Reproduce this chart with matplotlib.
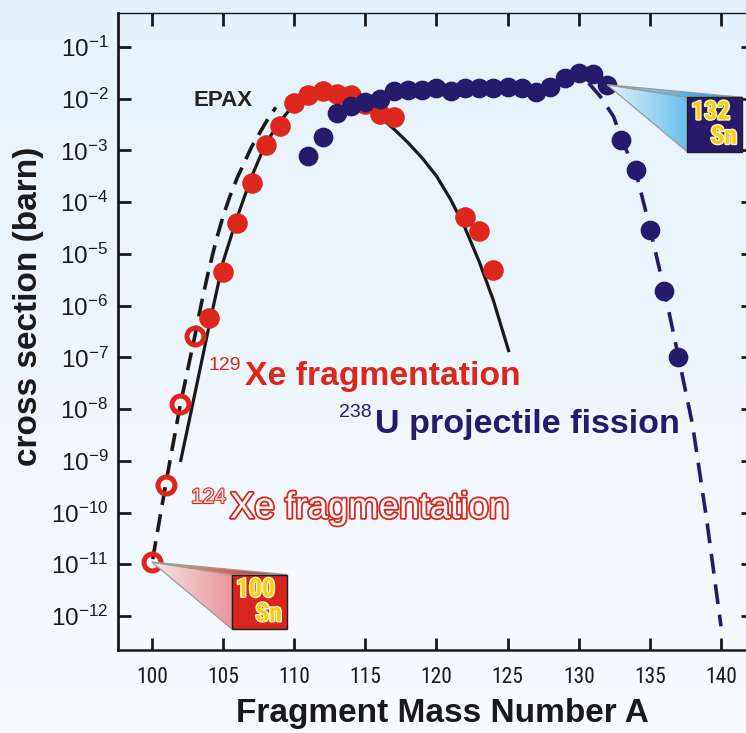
import numpy as np
import matplotlib
matplotlib.use("Agg")
import matplotlib.pyplot as plt
from matplotlib import font_manager
from matplotlib.font_manager import FontProperties
from matplotlib.patches import Polygon, Rectangle
from matplotlib.colors import LinearSegmentedColormap
from matplotlib.ticker import FixedLocator, FuncFormatter, NullLocator
import matplotlib.patheffects as pe

# 129Xe fragmentation (filled red circles), cross section in barn
xe129_A = [104, 105, 106, 107, 108, 109, 110, 111, 112, 113, 114, 115, 116, 117, 122, 123, 124]
xe129_sig = [5.75e-7, 4.5e-6, 4.0e-5, 2.4e-4, 1.3e-3, 2.95e-3, 8.3e-3, 1.17e-2, 1.38e-2,
             1.26e-2, 1.17e-2, 7.9e-3, 5.0e-3, 4.5e-3, 5.2e-5, 2.8e-5, 4.9e-6]

# 124Xe fragmentation (open red circles)
xe124_A = [100, 101, 102, 103]
xe124_sig = [1.1e-11, 3.4e-10, 1.23e-8, 2.6e-7]

# 238U projectile fission (navy circles)
u238_A = list(range(111, 138))
u238_sig = [7.8e-4, 1.86e-3, 5.4e-3, 7.2e-3, 8.7e-3, 9.8e-3, 1.38e-2, 1.48e-2, 1.48e-2,
            1.58e-2, 1.41e-2, 1.58e-2, 1.58e-2, 1.58e-2, 1.66e-2, 1.58e-2, 1.32e-2, 1.66e-2,
            2.57e-2, 3.16e-2, 3.0e-2, 1.86e-2, 1.58e-3, 4.2e-4, 2.95e-5, 1.95e-6, 1.02e-7]

# EPAX curve for 129Xe (solid black)
epax129_A = [102, 103, 104, 105, 106, 107, 108, 109, 110, 111, 112, 113, 114, 115, 116,
             117, 118, 119, 120, 121, 122, 123, 124, 125.1]
epax129_sig = [9.5e-10, 1.9e-8, 3.9e-7, 7.1e-6, 5.2e-5, 3.1e-4, 1.38e-3, 3.6e-3, 7.9e-3,
               1.17e-2, 1.45e-2, 1.51e-2, 1.32e-2, 8.9e-3, 4.5e-3, 2.6e-3, 1.41e-3, 7.1e-4,
               3.2e-4, 1.12e-4, 3.2e-5, 7.1e-6, 1.26e-6, 1.26e-7]

# EPAX curve for 124Xe (dashed black)
epax124_A = [100.05, 101, 102, 103, 103.5, 104, 104.5, 105, 105.5, 106, 107, 108, 108.7]
epax124_sig = [1.26e-11, 4.0e-10, 1.26e-8, 2.5e-7, 1.2e-6, 5.0e-6, 1.78e-5, 5.4e-5,
               1.35e-4, 3.0e-4, 1.17e-3, 3.47e-3, 6.8e-3]

# fission model for 238U (dashed navy)
fis_A = [130.7, 131.5, 132.45, 133, 134, 135, 136, 137, 138, 139, 140]
fis_sig = [2.0e-2, 1.12e-2, 4.5e-3, 1.66e-3, 4.0e-4, 3.2e-5, 2.1e-6, 1.05e-7, 5.0e-9, 7.1e-11, 6.3e-13]

x_ticks = [100, 105, 110, 115, 120, 125, 130, 135, 140]
y_exponents = list(range(-12, 0))

RED = "#dd261c"
NAVY = "#251a6c"
INK = "#1a1a1a"
SANS = "Liberation Sans"


def narrow_fonts():
    # look for an installed narrow/condensed sans face (regular and bold)
    prefs = ["Liberation Sans Narrow", "Roboto Condensed", "DejaVu Sans", "Noto Sans", "Open Sans"]
    found = {}
    for f in font_manager.fontManager.ttflist:
        narrow = ("Narrow" in f.name or "Condensed" in f.name
                  or f.stretch in ("condensed", "semi-condensed"))
        if not narrow or f.style != "normal":
            continue
        if "Extra" in f.name or "Ultra" in f.name:
            continue
        key = next((p for p in prefs if f.name.startswith(p)), None)
        if key is None:
            continue
        w = f.weight if isinstance(f.weight, int) else {"normal": 400, "regular": 400, "bold": 700}.get(f.weight, 0)
        slot = "bold" if w == 700 else ("regular" if w == 400 else None)
        if slot:
            found.setdefault(key, {})[slot] = f.fname
    for p in prefs:
        if p in found and "regular" in found[p] and "bold" in found[p]:
            return FontProperties(fname=found[p]["regular"]), FontProperties(fname=found[p]["bold"])
    return None, None


NARROW_REG, NARROW_BOLD = narrow_fonts()
HAVE_NARROW = NARROW_REG is not None

plt.rcParams["font.family"] = [SANS, "DejaVu Sans"]
plt.rcParams["mathtext.fontset"] = "custom"
plt.rcParams["mathtext.rm"] = SANS
plt.rcParams["mathtext.it"] = SANS
plt.rcParams["mathtext.bf"] = SANS + ":bold"


def grad_poly(axo, verts, c0, c1, z):
    poly = Polygon(verts, closed=True, facecolor="none", edgecolor="#9a9a9a", lw=0.9, zorder=z + 0.1)
    axo.add_patch(poly)
    xs = [v[0] for v in verts]
    ys = [v[1] for v in verts]
    cmap = LinearSegmentedColormap.from_list("g", [c0, c1])
    im = axo.imshow(np.linspace(0, 1, 64)[None, :], cmap=cmap, aspect="auto", origin="lower",
                    extent=(min(xs), max(xs), min(ys), max(ys)), zorder=z, interpolation="bilinear")
    im.set_clip_path(poly)


def box_text(axo, x, y, s, ha, va):
    fx = [pe.withStroke(linewidth=2.0, foreground="#fff6c4")]
    if HAVE_NARROW:
        fp = NARROW_BOLD.copy()
        fp.set_size(18.5)
        axo.text(x, y, s, ha=ha, va=va, fontproperties=fp, color="#f6cf10", path_effects=fx, zorder=4)
    else:
        axo.text(x, y, s, ha=ha, va=va, fontsize=15.5, fontweight="bold", color="#f6cf10",
                 path_effects=fx, zorder=4)


def callout(axo, apex, num, sym, box_col, face0, face1, strip0, strip1):
    x0, y0 = apex
    tl = (x0 + 80, y0 - 12.5)
    tr = (x0 + 135, y0 - 12.5)
    bl = (x0 + 80, y0 - 67)
    grad_poly(axo, [apex, tl, bl], face0, face1, 2)
    grad_poly(axo, [apex, tr, tl], strip0, strip1, 2)
    axo.add_patch(Rectangle(bl, 55, 54.5, facecolor=box_col, edgecolor="#202020", lw=1.0, zorder=3))
    box_text(axo, tl[0] + 4, tl[1] - 3, num, "left", "top")
    box_text(axo, tr[0] - 5, bl[1] + 8, sym, "right", "baseline")


W, H = 746, 733
fig = plt.figure(figsize=(W / 100, H / 100), dpi=100)

# background gradient
bg = fig.add_axes([0, 0, 1, 1], zorder=-5)
bg_cmap = LinearSegmentedColormap.from_list("bg", ["#f8fbff", "#e5f2fc"])
bg.imshow(np.linspace(0, 1, 256)[:, None], cmap=bg_cmap, aspect="auto", origin="lower",
          extent=(0, 1, 0, 1))
bg.axis("off")

ax = fig.add_axes([118 / W, 83 / H, 635 / W, 637 / H], zorder=1)
ax.set_facecolor("none")
ax.set_yscale("log")
ax.set_xlim(97.61, 142.25)
ax.set_ylim(2.2e-13, 0.454)

ax.plot(epax129_A, epax129_sig, color=INK, lw=2.3, zorder=2, solid_capstyle="butt")
ax.plot(epax124_A, epax124_sig, color=INK, lw=2.6, ls=(0, (5, 2.6)), zorder=2)
ax.plot(fis_A, fis_sig, color=NAVY, lw=2.6, ls=(0, (5.5, 3)), zorder=2)

ax.plot(xe129_A, xe129_sig, "o", ms=13.8, color=RED, mec=RED, zorder=3)
ax.plot(xe124_A, xe124_sig, "o", ms=12.2, mfc="none", mec=RED, mew=3.6, zorder=3)
ax.plot(u238_A, u238_sig, "o", ms=13.2, color=NAVY, mec=NAVY, zorder=4)

# axes styling
ax.xaxis.set_major_locator(FixedLocator(x_ticks))
ax.yaxis.set_major_locator(FixedLocator([10.0 ** e for e in y_exponents]))
ax.yaxis.set_minor_locator(NullLocator())
ax.yaxis.set_major_formatter(FuncFormatter(lambda v, p: r"$10^{%d}$" % round(np.log10(v))))
ax.tick_params(axis="both", which="major", direction="in", top=True, right=True,
               length=9, width=2.0, colors=INK)
ax.tick_params(axis="x", pad=12, labelsize=15.5 if HAVE_NARROW else 14.5)
ax.tick_params(axis="y", pad=7, labelsize=17.5)
if HAVE_NARROW:
    for lbl in ax.get_xticklabels():
        lbl.set_fontproperties(NARROW_REG)
        lbl.set_fontsize(15.5)
for s, w in [("left", 2.0), ("bottom", 1.8), ("top", 1.0), ("right", 2.0)]:
    ax.spines[s].set_linewidth(w)
    ax.spines[s].set_color(INK)

ax.set_xlabel("Fragment Mass Number A", fontsize=24, fontweight="bold", color=INK, va="center")
ax.xaxis.set_label_coords(0.511, -0.099)
ax.set_ylabel("cross section (barn)", fontsize=24, fontweight="bold", color=INK, va="center")
ax.yaxis.set_label_coords(-0.1417, 0.540)

# annotations
ax.text(102.95, 7.08e-3, "EPAX", fontsize=16, fontweight="bold", color="#222222",
        ha="left", va="baseline", zorder=5)

ax.text(106.54, 2.92e-8, "Xe fragmentation", fontsize=24.3, fontweight="bold", color=RED,
        ha="left", va="baseline", zorder=5)
ax.text(106.26, 5.7e-8, "129", fontsize=14, color=RED, ha="right", va="baseline", zorder=5)

ax.text(115.68, 3.5e-9, "U projectile fission", fontsize=24.6, fontweight="bold", color=NAVY,
        ha="left", va="baseline", zorder=5)
ax.text(115.43, 7.1e-9, "238", fontsize=14, color=NAVY, ha="right", va="baseline", zorder=5)

outline = [pe.Stroke(linewidth=2.6, foreground=RED), pe.Normal()]
ax.text(105.48, 7.85e-11, "Xe fragmentation", fontsize=26.4, color="#fbfdff",
        ha="left", va="baseline", path_effects=outline, zorder=5)
ax.text(105.20, 1.53e-10, "124", fontsize=15, color="#fbe4e4",
        ha="right", va="baseline", path_effects=[pe.Stroke(linewidth=1.6, foreground=RED), pe.Normal()],
        zorder=5)

# callouts for doubly-magic nuclei
ov = fig.add_axes([0, 0, 1, 1], zorder=3)
ov.set_facecolor("none")
ov.axis("off")
apex_sn100 = ax.transData.transform((xe124_A[0], xe124_sig[0]))
apex_sn132 = ax.transData.transform((u238_A[21], u238_sig[21]))
callout(ov, apex_sn100, "100", "Sn", "#d7261e", "#fbe6e7", "#e8949a", "#f0a0a0", "#d8261e")
callout(ov, apex_sn132, "132", "Sn", "#271a6a", "#e2f3fc", "#69c0ec", "#a6d8f2", "#1596de")
ov.set_xlim(0, W)
ov.set_ylim(0, H)

fig.savefig("out.png", dpi=100)
